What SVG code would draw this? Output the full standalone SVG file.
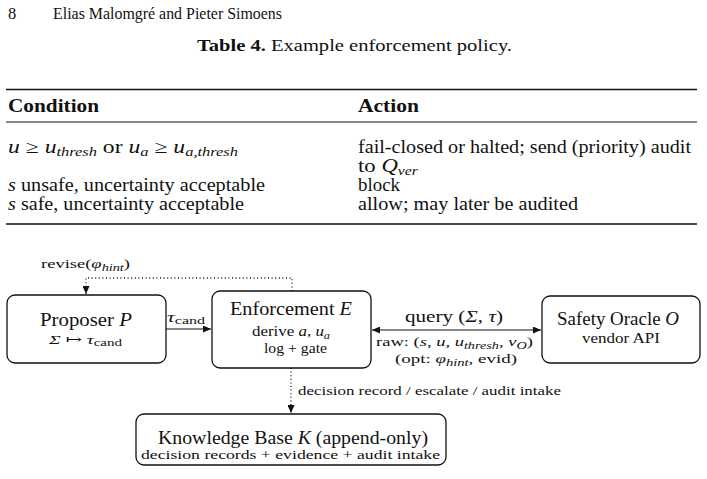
<svg xmlns="http://www.w3.org/2000/svg" width="707" height="479" viewBox="0 0 707 479" font-family="'Liberation Serif', 'DejaVu Serif', serif">
<defs>
<style>
text{font-family:"Liberation Serif","DejaVu Serif",serif;fill:#111}
.hd{font-size:16.5px}
.t18{font-size:18px}
.b{font-weight:bold}
.i{font-style:italic}
.node{fill:#fff;stroke:#111;stroke-width:1.3}
.n17{font-size:18px}
.n12{font-size:13px}
.lab{font-size:13px}
.rule{stroke:#111;fill:none}
.edge{stroke:#111;stroke-width:1.2;fill:none}
.dot{stroke:#111;stroke-width:1.3;fill:none;stroke-dasharray:1 2.6}
</style>
<marker id="ah" viewBox="0 0 8 7" refX="8" refY="3.5" markerWidth="8" markerHeight="7" markerUnits="userSpaceOnUse" orient="auto-start-reverse">
<path d="M0,0 L8,3.5 L0,7 z" fill="#111"/>
</marker>
</defs>
<rect width="707" height="479" fill="#fff"/>

<!-- page header -->
<text class="hd" x="8" y="19">8</text>
<text class="hd" x="53" y="19" textLength="229" lengthAdjust="spacingAndGlyphs">Elias Malomgré and Pieter Simoens</text>
<text class="hd" x="197" y="51" textLength="315" lengthAdjust="spacingAndGlyphs"><tspan class="b">Table 4.</tspan> Example enforcement policy.</text>

<!-- table -->
<g id="table">
<line class="rule" x1="6" y1="89.5" x2="697" y2="89.5" stroke-width="1.6"/>
<text class="t18 b" x="8" y="112" textLength="91" lengthAdjust="spacingAndGlyphs">Condition</text>
<text class="t18 b" x="358" y="112" textLength="61" lengthAdjust="spacingAndGlyphs">Action</text>
<line class="rule" x1="6" y1="122" x2="697" y2="122" stroke-width="1"/>
<text class="t18" x="8" y="153" textLength="230" lengthAdjust="spacingAndGlyphs"><tspan class="i">u</tspan> ≥ <tspan class="i">u</tspan><tspan class="i" font-size="12.5" dy="3">thresh</tspan><tspan dy="-3"> or </tspan><tspan class="i">u</tspan><tspan class="i" font-size="12.5" dy="3">a</tspan><tspan dy="-3"> ≥ </tspan><tspan class="i">u</tspan><tspan class="i" font-size="12.5" dy="3">a,thresh</tspan></text>
<text class="t18" x="358" y="153" textLength="333" lengthAdjust="spacingAndGlyphs">fail-closed or halted; send (priority) audit</text>
<text class="t18" x="358" y="172" textLength="60" lengthAdjust="spacingAndGlyphs">to <tspan class="i">Q</tspan><tspan class="i" font-size="12.5" dy="3">ver</tspan></text>
<text class="t18" x="8" y="191" textLength="257" lengthAdjust="spacingAndGlyphs"><tspan class="i">s</tspan> unsafe, uncertainty acceptable</text>
<text class="t18" x="358" y="191" textLength="42" lengthAdjust="spacingAndGlyphs">block</text>
<text class="t18" x="8" y="210" textLength="236" lengthAdjust="spacingAndGlyphs"><tspan class="i">s</tspan> safe, uncertainty acceptable</text>
<text class="t18" x="358" y="210" textLength="220" lengthAdjust="spacingAndGlyphs">allow; may later be audited</text>
<line class="rule" x1="6" y1="224" x2="697" y2="224" stroke-width="1.6"/>
</g>

<!-- connectors -->
<g id="connectors">
<line class="edge" x1="166" y1="329" x2="211" y2="329" marker-end="url(#ah)"/>
<line class="edge" x1="372" y1="330" x2="541" y2="330" marker-start="url(#ah)" marker-end="url(#ah)"/>
<path class="dot" d="M292,291 V278 H86 V294" marker-end="url(#ah)"/>
<path class="dot" d="M291,368 V413" marker-end="url(#ah)"/>
<text class="lab" x="41" y="268" textLength="89" lengthAdjust="spacingAndGlyphs">revise(<tspan class="i">φ</tspan><tspan class="i" font-size="10" dy="2.5">hint</tspan><tspan dy="-2.5">)</tspan></text>
<text x="167" y="322" font-size="15" textLength="38" lengthAdjust="spacingAndGlyphs"><tspan class="i">τ</tspan><tspan font-size="11" dy="2">cand</tspan></text>
<text x="405" y="322" font-size="17" textLength="98" lengthAdjust="spacingAndGlyphs">query (<tspan class="i">Σ</tspan>, <tspan class="i">τ</tspan>)</text>
<text class="lab" x="376" y="346" textLength="157" lengthAdjust="spacingAndGlyphs">raw: (<tspan class="i">s</tspan>, <tspan class="i">u</tspan>, <tspan class="i">u</tspan><tspan class="i" font-size="10" dy="2.5">thresh</tspan><tspan dy="-2.5">, </tspan><tspan class="i">v</tspan><tspan class="i" font-size="10" dy="2.5">O</tspan><tspan dy="-2.5">)</tspan></text>
<text class="lab" x="395" y="363" textLength="122" lengthAdjust="spacingAndGlyphs">(opt: <tspan class="i">φ</tspan><tspan class="i" font-size="10" dy="2.5">hint</tspan><tspan dy="-2.5">, evid)</tspan></text>
<text class="lab" x="298" y="395" textLength="263" lengthAdjust="spacingAndGlyphs">decision record / escalate / audit intake</text>
</g>

<!-- nodes -->
<g id="proposer">
<rect class="node" x="7" y="295" width="159" height="68" rx="8"/>
<text class="n17" x="40" y="326" textLength="92" lengthAdjust="spacingAndGlyphs">Proposer <tspan class="i">P</tspan></text>
<text class="n12" x="49" y="344" textLength="73" lengthAdjust="spacingAndGlyphs"><tspan class="i">Σ</tspan> ↦ <tspan class="i">τ</tspan><tspan font-size="10" dy="2">cand</tspan></text>
</g>
<g id="enforcement">
<rect class="node" x="212" y="291" width="159" height="77" rx="8"/>
<text class="n17" x="230" y="315" textLength="122" lengthAdjust="spacingAndGlyphs">Enforcement <tspan class="i">E</tspan></text>
<text x="252" y="336" font-size="14.5" textLength="78" lengthAdjust="spacingAndGlyphs">derive <tspan class="i">a</tspan>, <tspan class="i">u</tspan><tspan class="i" font-size="10.5" dy="2.5">a</tspan></text>
<text x="264" y="353" font-size="14.5" textLength="63" lengthAdjust="spacingAndGlyphs">log + gate</text>
</g>
<g id="oracle">
<rect class="node" x="542" y="296" width="158" height="67" rx="8"/>
<text class="n17" x="557" y="325" textLength="122" lengthAdjust="spacingAndGlyphs">Safety Oracle <tspan class="i">O</tspan></text>
<text x="582" y="343" font-size="14.5" textLength="78" lengthAdjust="spacingAndGlyphs">vendor API</text>
</g>
<g id="kb">
<rect class="node" x="136" y="414" width="310" height="51" rx="8"/>
<text class="n17" x="158" y="444" textLength="270" lengthAdjust="spacingAndGlyphs">Knowledge Base <tspan class="i">K</tspan> (append-only)</text>
<text x="141" y="459" font-size="13.5" textLength="299" lengthAdjust="spacingAndGlyphs">decision records + evidence + audit intake</text>
</g>
</svg>
